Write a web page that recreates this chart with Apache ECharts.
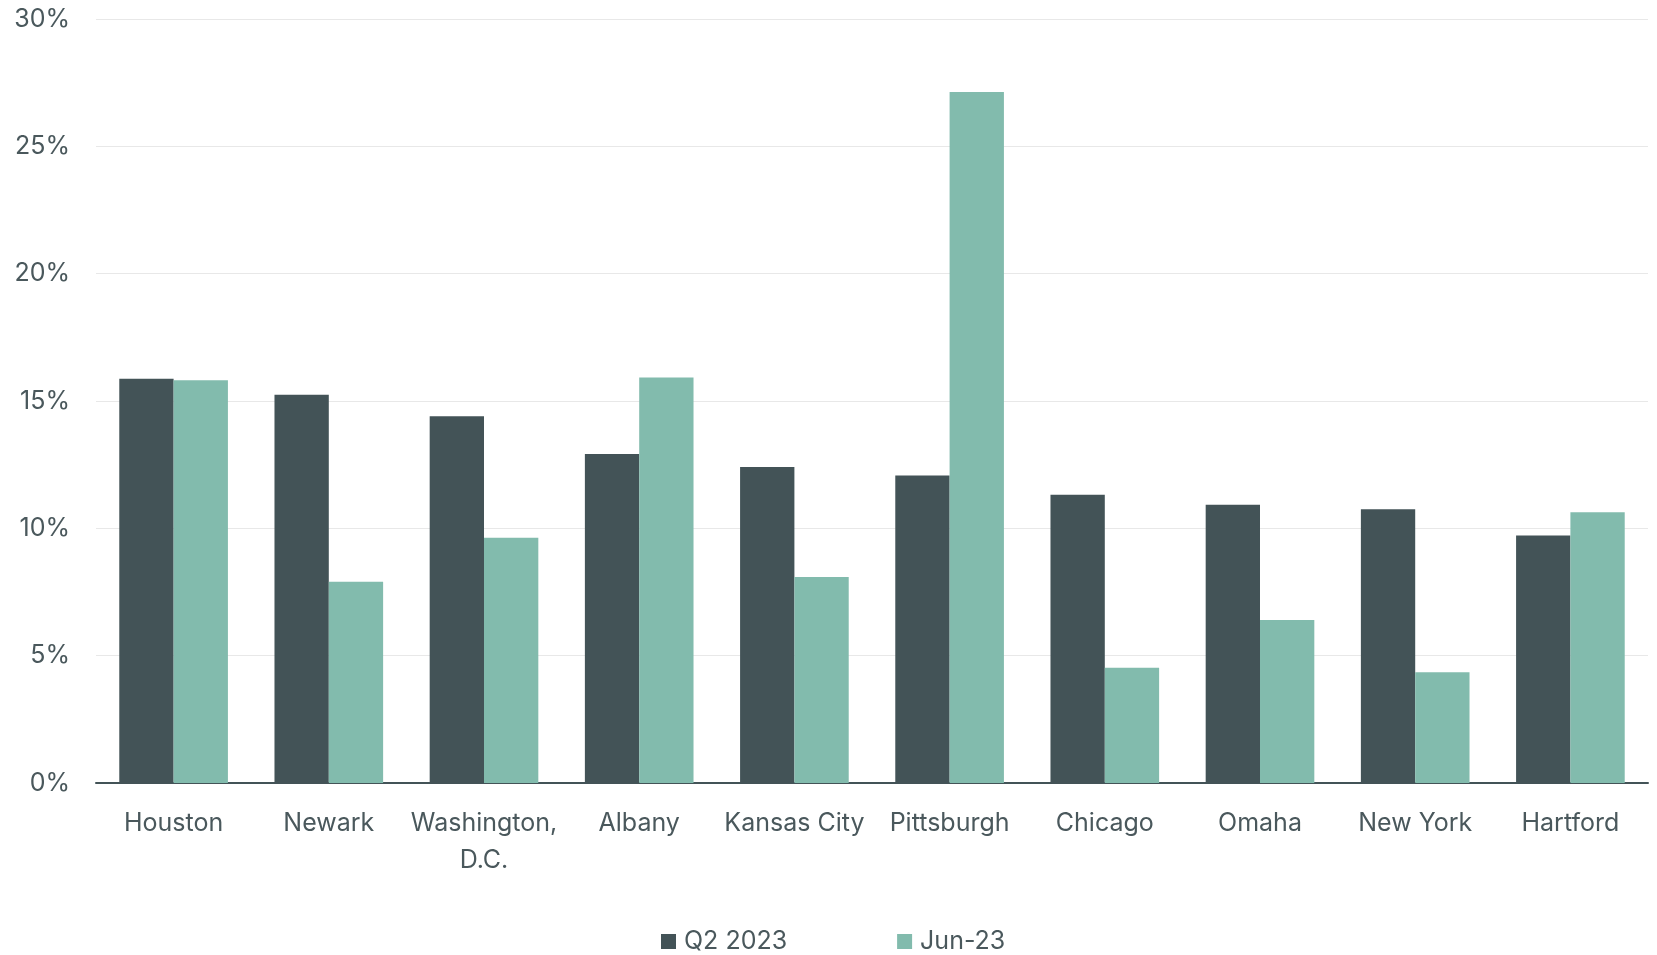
<!DOCTYPE html>
<html>
	<head>
		<meta charset="UTF-8">
		<title>Chart</title>
		<script src="https://cdn.jsdelivr.net/npm/echarts@6/dist/echarts.min.js"></script>
		<style>
			html, body { margin: 0; padding: 0; background: #fff; }
			#chart { width: 1657px; height: 955px; }
		</style>
	</head>
	<body>
		<div id="chart"></div>
		<script>
			var cities = ['Houston', 'Newark', 'Washington,\nD.C.', 'Albany', 'Kansas City', 'Pittsburgh', 'Chicago', 'Omaha', 'New York', 'Hartford'];
			var q2_2023 = [15.87, 15.25, 14.4, 12.92, 12.41, 12.07, 11.32, 10.93, 10.75, 9.72];
			var jun_23 = [15.81, 7.9, 9.63, 15.92, 8.09, 27.13, 4.53, 6.4, 4.35, 10.63];

			var textColor = '#4a585c';
			var fontName = 'Inter, "Open Sans", sans-serif';

			var chart = echarts.init(document.getElementById('chart'));
			chart.setOption({
				animation: false,
				textStyle: { fontFamily: fontName },
				grid: { left: 96, right: 9, top: 19, bottom: 172 },
				legend: {
					bottom: -4,
					left: 656,
					itemWidth: 15,
					itemHeight: 15,
					itemGap: 110,
					icon: 'rect',
					textStyle: { fontSize: 25, color: textColor, fontFamily: fontName, padding: [0, 0, 0, 3] },
					data: ['Q2 2023', 'Jun-23']
				},
				xAxis: {
					type: 'category',
					data: cities,
					axisTick: { show: false },
					axisLine: { lineStyle: { color: '#435357', width: 2 } },
					axisLabel: { fontSize: 25, color: textColor, margin: 22, lineHeight: 37, interval: 0 }
				},
				yAxis: {
					type: 'value',
					min: 0,
					max: 30,
					interval: 5,
					axisLabel: { fontSize: 25, color: textColor, margin: 26, formatter: '{value}%' },
					splitLine: { lineStyle: { color: '#e8e8e8', width: 1 } }
				},
				series: [
					{
						name: 'Q2 2023',
						type: 'bar',
						data: q2_2023,
						barGap: '0%',
						barCategoryGap: '30%',
						itemStyle: { color: '#435357' }
					},
					{
						name: 'Jun-23',
						type: 'bar',
						data: jun_23,
						itemStyle: { color: '#82bbad' }
					}
				]
			});
		</script>
	</body>
</html>
